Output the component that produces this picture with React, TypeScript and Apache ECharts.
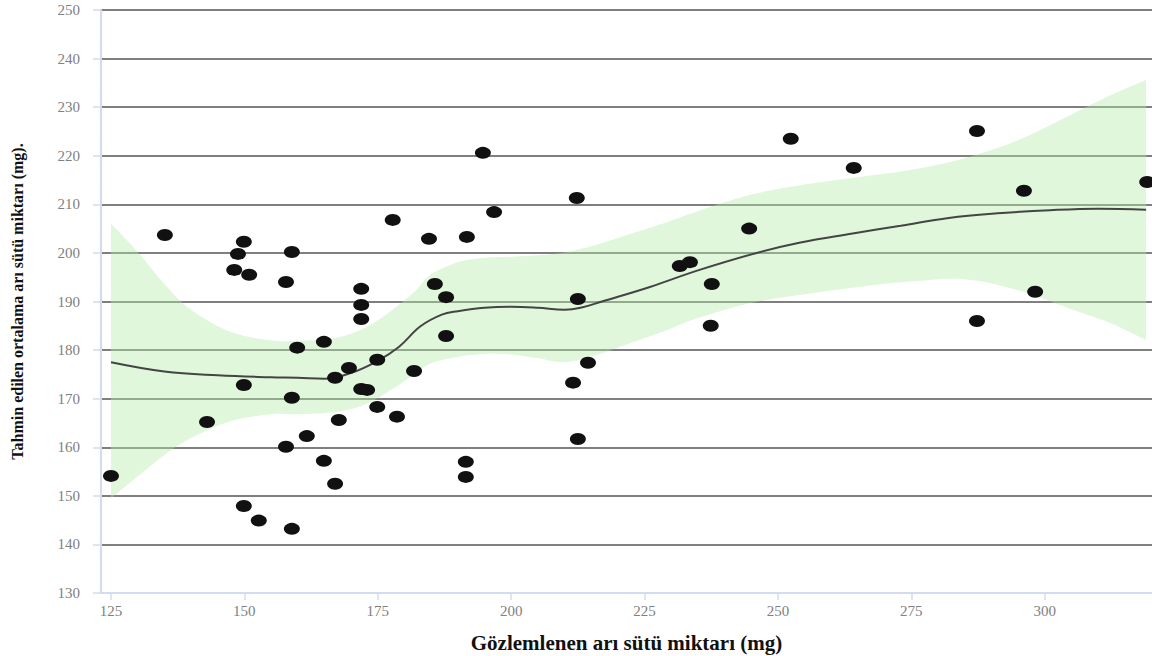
import React, { useEffect, useRef } from "react";
import * as echarts from "echarts";

// Observed vs predicted points
const pointX = [125, 135.1, 143.0, 148.1, 148.8, 149.9, 150.9, 149.9, 149.9, 152.7, 157.8, 158.9, 159.9, 158.9, 157.8, 158.9, 161.7, 164.9, 164.9, 167.0, 167.7, 167.0, 169.6, 171.9, 171.9, 171.9, 171.9, 173.0, 174.9, 174.9, 177.8, 178.6, 181.8, 184.6, 185.7, 187.8, 187.8, 191.7, 191.5, 191.5, 194.7, 196.8, 212.3, 212.5, 211.6, 212.5, 214.4, 231.6, 233.5, 237.6, 237.4, 244.6, 252.4, 264.2, 287.3, 287.3, 296.1, 298.2, 319.2];
const pointY = [154.1, 203.7, 165.2, 196.5, 199.8, 202.3, 195.5, 172.8, 147.9, 144.9, 194.0, 200.2, 180.5, 170.2, 160.1, 143.2, 162.3, 181.7, 157.2, 174.3, 165.6, 152.5, 176.3, 192.6, 189.3, 186.4, 172.0, 171.8, 178.0, 168.3, 206.8, 166.3, 175.7, 202.9, 193.6, 190.9, 182.9, 203.3, 157.0, 153.9, 220.6, 208.4, 211.3, 190.5, 173.3, 161.7, 177.4, 197.3, 198.1, 193.6, 185.0, 205.0, 223.5, 217.5, 225.1, 186.0, 212.8, 192.0, 214.6];

// LOESS fit line
const fitX = [125, 135, 145, 155, 160, 165, 170, 175, 179, 183, 187, 190, 195, 200, 205, 210, 213, 217, 226, 235, 246, 254, 264, 273, 282, 292, 301, 310, 319];
const fitY = [177.5, 175.6, 174.8, 174.4, 174.3, 174.1, 175.3, 177.8, 180.7, 184.9, 187.3, 188.0, 188.7, 188.9, 188.7, 188.3, 188.7, 190.0, 193.0, 196.4, 200.0, 202.1, 204.0, 205.6, 207.2, 208.2, 208.8, 209.1, 208.9];

// Confidence band
const bandX = [125, 130, 135, 140, 147.5, 155, 160, 167.5, 173, 178, 182, 185, 190, 195, 200, 205, 210, 216, 222, 228, 235, 245, 255, 265, 275, 285, 295, 305, 312, 319];
const bandUpper = [206.0, 200.2, 193.6, 188.3, 183.7, 182.0, 181.9, 182.6, 184.8, 188.5, 192.1, 195.6, 198.1, 199.0, 199.2, 199.5, 200.1, 201.7, 203.8, 205.9, 208.6, 212.0, 214.1, 215.6, 217.1, 219.5, 223.2, 228.5, 232.3, 235.6];
const bandLower = [149.5, 154.0, 158.4, 161.9, 165.4, 166.8, 166.8, 167.3, 169.0, 172.2, 175.1, 177.3, 178.6, 179.2, 179.1, 178.3, 177.5, 179.0, 181.3, 183.6, 186.6, 189.7, 191.5, 193.0, 194.1, 194.6, 192.3, 188.4, 185.7, 182.1];

const xTicks = [125, 150, 175, 200, 225, 250, 275, 300];
const xTitle = "Gözlemlenen arı sütü miktarı (mg)";
const yTitle = "Tahmin edilen ortalama arı sütü miktarı (mg).";

function smoothPath(pts: number[][], moveFirst: boolean): string {
  let d = moveFirst ? `M${pts[0][0]},${pts[0][1]}` : `L${pts[0][0]},${pts[0][1]}`;
  const n = pts.length;
  for (let i = 0; i < n - 1; i++) {
    const p0 = pts[Math.max(0, i - 1)];
    const p1 = pts[i];
    const p2 = pts[i + 1];
    const p3 = pts[Math.min(n - 1, i + 2)];
    const c1x = p1[0] + (p2[0] - p0[0]) / 6;
    const c1y = p1[1] + (p2[1] - p0[1]) / 6;
    const c2x = p2[0] - (p3[0] - p1[0]) / 6;
    const c2y = p2[1] - (p3[1] - p1[1]) / 6;
    d += ` C${c1x},${c1y} ${c2x},${c2y} ${p2[0]},${p2[1]}`;
  }
  return d;
}

export default function App() {
  const ref = useRef<HTMLDivElement>(null);
  useEffect(() => {
    if (!ref.current) return;
    const chart = echarts.init(ref.current, undefined, { renderer: "svg" });
    const serif = "'Liberation Serif', 'Times New Roman', serif";
    const axisBlue = "#d3dbf0";
    chart.setOption({
      animation: false,
      backgroundColor: "#ffffff",
      textStyle: { fontFamily: serif },
      grid: { left: 101, right: 0, top: 10, bottom: 63, containLabel: false, outerBoundsMode: "none" },
      xAxis: {
        type: "value",
        min: 123.13,
        max: 320.1,
        name: xTitle,
        nameLocation: "middle",
        nameGap: 39,
        nameTextStyle: { fontFamily: serif, fontSize: 21, fontWeight: "bold", color: "#111" },
        axisLine: { show: true, onZero: false, lineStyle: { color: axisBlue, width: 2 } },
        axisTick: { show: true, customValues: xTicks, length: 7, lineStyle: { color: axisBlue, width: 1.5 } },
        axisLabel: { customValues: xTicks, fontSize: 15, color: "#808080", margin: 10, fontFamily: serif },
        splitLine: { show: false },
      },
      yAxis: {
        type: "value",
        min: 130,
        max: 250,
        interval: 10,
        name: yTitle,
        nameLocation: "middle",
        nameGap: 76,
        nameTextStyle: { fontFamily: serif, fontSize: 16, fontWeight: "bold", color: "#111" },
        axisLine: { show: true, onZero: false, lineStyle: { color: axisBlue, width: 2 } },
        axisTick: { show: true, length: 8, lineStyle: { color: axisBlue, width: 1.5 } },
        axisLabel: { fontSize: 15, color: "#808080", margin: 21, fontFamily: serif },
        splitLine: { show: true, showMinLine: false, lineStyle: { color: "#555", width: 1.5 } },
      },
      series: [
        {
          type: "custom",
          name: "band",
          data: bandX.map((x, i) => [x, bandLower[i], bandUpper[i]]),
          encode: { x: 0, y: [1, 2] },
          silent: true,
          z: 1,
          renderItem: (params: any, api: any) => {
            if (params.dataIndex !== 0) return null;
            const up = bandX.map((x, i) => api.coord([x, bandUpper[i]]));
            const lo = bandX.map((x, i) => api.coord([x, bandLower[i]])).reverse();
            const d = smoothPath(up, true) + " " + smoothPath(lo, false) + " Z";
            return {
              type: "path",
              shape: { pathData: d },
              style: { fill: "rgba(178,235,168,0.4)", stroke: "none" },
            };
          },
        },
        {
          type: "line",
          name: "fit",
          data: fitX.map((x, i) => [x, fitY[i]]),
          symbol: "none",
          smooth: 0.4,
          lineStyle: { color: "#444", width: 2 },
          z: 2,
        },
        {
          type: "scatter",
          name: "points",
          data: pointX.map((x, i) => [x, pointY[i]]),
          symbol: "circle",
          symbolSize: [16, 12],
          itemStyle: { color: "#111111", opacity: 1 },
          clip: false,
          z: 3,
        },
      ],
    });
    return () => chart.dispose();
  }, []);
  return (
    <div
      ref={ref}
      style={{ position: "fixed", left: 0, top: 0, width: 1152, height: 656, background: "#fff" }}
    />
  );
}
